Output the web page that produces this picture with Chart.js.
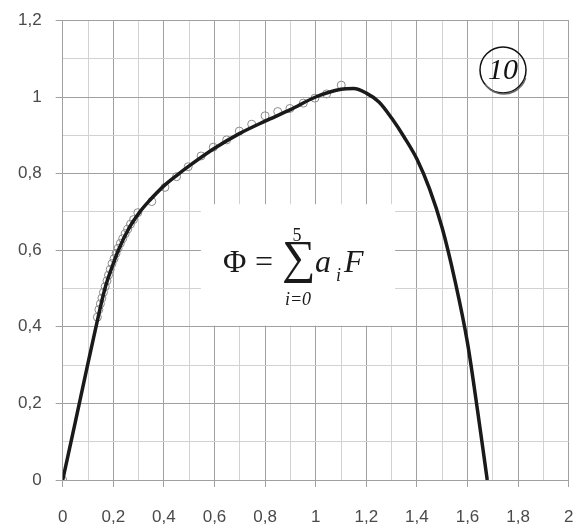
<!DOCTYPE html>
<html>
<head>
<meta charset="utf-8">
<script src="https://cdn.jsdelivr.net/npm/chart.js@4"></script>
<style>
  html, body { margin: 0; padding: 0; background: #fff; }
  #wrap { width: 576px; height: 530px; }
</style>
</head>
<body>
<div id="wrap"><canvas id="chart" width="576" height="530"></canvas></div>
<script>
// measured points (open circles)
const pointX = [0, 0.137, 0.143, 0.149, 0.155, 0.161, 0.168, 0.175, 0.181, 0.188, 0.195, 0.203, 0.211, 0.219,
  0.228, 0.237, 0.247, 0.257, 0.268, 0.280, 0.297, 0.352, 0.404, 0.45, 0.496, 0.547, 0.595, 0.648, 0.698,
  0.747, 0.8, 0.85, 0.898, 0.951, 0.997, 1.043, 1.101];
const pointY = [0, 0.425, 0.445, 0.46, 0.475, 0.49, 0.505, 0.52, 0.535, 0.55, 0.565, 0.578, 0.592, 0.605,
  0.618, 0.63, 0.643, 0.655, 0.668, 0.68, 0.698, 0.727, 0.764, 0.792, 0.818, 0.846, 0.869, 0.888, 0.911,
  0.929, 0.951, 0.962, 0.97, 0.984, 0.997, 1.008, 1.031];

// fitted polynomial curve
const curveX = [0, 0.05, 0.1, 0.13, 0.167, 0.2, 0.22, 0.26, 0.305, 0.345, 0.4, 0.45, 0.5, 0.6, 0.7, 0.8, 0.9,
  1.0, 1.1, 1.15, 1.2, 1.25, 1.3, 1.35, 1.4, 1.45, 1.5, 1.55, 1.6, 1.64, 1.678];
const curveY = [0, 0.152, 0.305, 0.395, 0.5, 0.565, 0.6, 0.655, 0.7, 0.731, 0.768, 0.795, 0.82, 0.866, 0.905,
  0.937, 0.967, 1.0, 1.02, 1.022, 1.01, 0.987, 0.945, 0.895, 0.838, 0.76, 0.658, 0.522, 0.358, 0.18, 0];

const xMin = 0, xMax = 2, xStep = 0.1;
const yMin = 0, yMax = 1.2, yStep = 0.1;

const toXY = (xs, ys) => xs.map((x, i) => ({ x: x, y: ys[i] }));
const isMajor = (v) => Math.round(v * 10) % 2 === 0;
const fmt = (v) => String(Math.round(v * 10) / 10).replace(".", ",");

const majorGrid = "#a0a0a0";
const minorGrid = "#d2d2d2";
const textColor = "#4a4a4a";

// formula box + circled number
const annotations = {
  id: "annotations",
  beforeDatasetsDraw(chart) {
    const { ctx, scales } = chart;
    const x1 = scales.x.getPixelForValue(0.546), x2 = scales.x.getPixelForValue(1.314);
    const y1 = scales.y.getPixelForValue(0.72), y2 = scales.y.getPixelForValue(0.403);
    ctx.save();
    ctx.fillStyle = "#fff";
    ctx.fillRect(x1, y1, x2 - x1, y2 - y1);
    ctx.restore();
  },
  afterDraw(chart) {
    const { ctx } = chart;
    ctx.save();
    ctx.fillStyle = "#1a1a1a";
    ctx.textBaseline = "alphabetic";
    ctx.textAlign = "left";
    ctx.font = "32px 'Liberation Serif'";
    ctx.fillText("\u03A6", 223, 272);
    ctx.fillText("=", 255, 272);
    ctx.font = "47px 'Liberation Serif'";
    ctx.fillText("\u2211", 282, 273);
    ctx.font = "italic 32px 'Liberation Serif'";
    ctx.fillText("a", 315, 272);
    ctx.fillText("F", 344, 272);
    ctx.font = "italic 18px 'Liberation Serif'";
    ctx.fillText("i", 336, 281);
    ctx.textAlign = "center";
    ctx.font = "18px 'Liberation Serif'";
    ctx.fillText("5", 297, 241);
    ctx.font = "italic 18px 'Liberation Serif'";
    ctx.fillText("i=0", 298, 305);

    // circled "10"
    ctx.lineWidth = 1.5;
    ctx.strokeStyle = "#111";
    ctx.beginPath();
    ctx.ellipse(503, 70, 23, 23, 0, 0, Math.PI * 2);
    ctx.stroke();
    ctx.strokeStyle = "#666";
    ctx.beginPath();
    ctx.ellipse(503.8, 71, 23, 23, 0, 0.1 * Math.PI, 0.8 * Math.PI);
    ctx.stroke();
    ctx.fillStyle = "#111";
    ctx.font = "italic 30px 'Liberation Serif'";
    ctx.textBaseline = "middle";
    ctx.fillText("10", 503, 71);
    ctx.restore();
  }
};

new Chart(document.getElementById("chart").getContext("2d"), {
  type: "scatter",
  data: {
    datasets: [
      {
        label: "fit",
        data: toXY(curveX, curveY),
        showLine: true,
        borderColor: "#1a1a1a",
        borderWidth: 3.5,
        pointRadius: 0,
        cubicInterpolationMode: "monotone",
        fill: false
      },
      {
        label: "data",
        data: toXY(pointX, pointY),
        showLine: false,
        pointRadius: 4,
        pointBorderWidth: 1,
        pointBorderColor: "#8a8a8a",
        pointBackgroundColor: "rgba(255,255,255,0)"
      }
    ]
  },
  plugins: [annotations],
  options: {
    responsive: false,
    animation: false,
    layout: { padding: { left: 0, right: 7.3, top: 20.4, bottom: 0 } },
    plugins: { legend: { display: false }, tooltip: { enabled: false } },
    scales: {
      x: {
        type: "linear",
        min: xMin, max: xMax,
        afterFit(scale) { scale.height = 50; scale.paddingLeft = 0; scale.paddingRight = 0; },
        border: { display: false },
        grid: {
          color: (c) => isMajor(c.tick.value) ? majorGrid : minorGrid,
          tickColor: (c) => isMajor(c.tick.value) ? majorGrid : "rgba(0,0,0,0)",
          tickLength: 7,
          lineWidth: 1
        },
        ticks: {
          stepSize: xStep,
          autoSkip: false,
          maxRotation: 0,
          padding: 20,
          color: textColor,
          font: { family: "'Liberation Sans'", size: 17 },
          callback: (v) => isMajor(v) ? fmt(v) : ""
        }
      },
      y: {
        type: "linear",
        min: yMin, max: yMax,
        afterFit(scale) { scale.width = 62.7; scale.paddingTop = 0; scale.paddingBottom = 0; },
        border: { display: false },
        grid: {
          color: (c) => isMajor(c.tick.value) ? majorGrid : minorGrid,
          tickColor: (c) => isMajor(c.tick.value) ? majorGrid : "rgba(0,0,0,0)",
          tickLength: 7,
          lineWidth: 1
        },
        ticks: {
          stepSize: yStep,
          autoSkip: false,
          padding: 14,
          color: textColor,
          font: { family: "'Liberation Sans'", size: 17 },
          callback: (v) => isMajor(v) ? fmt(v) : ""
        }
      }
    }
  }
});
</script>
</body>
</html>
